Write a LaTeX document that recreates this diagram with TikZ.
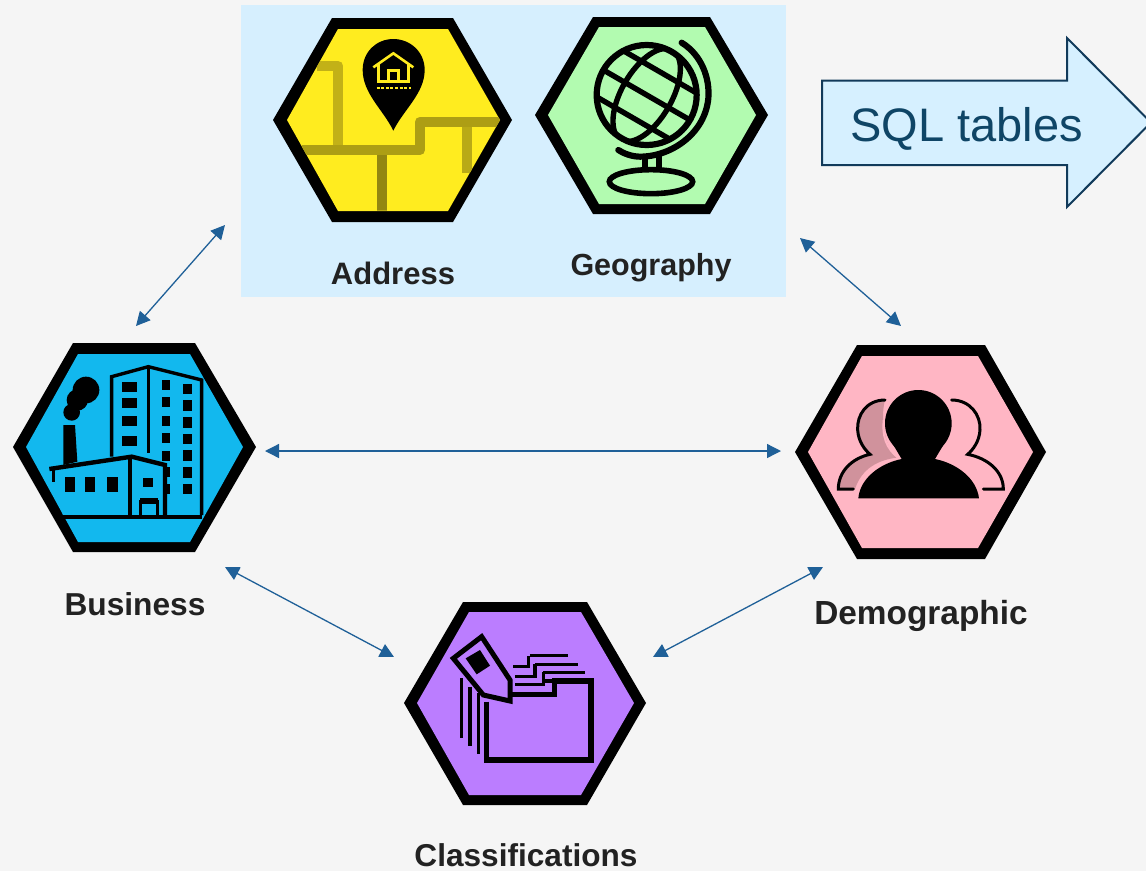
\documentclass[tikz,border=0pt]{standalone}
\usepackage{fontspec}
\setmainfont{Liberation Sans}
\usetikzlibrary{arrows.meta}
\definecolor{bgc}{HTML}{F5F5F5}
\definecolor{panelc}{HTML}{D6EFFE}
\definecolor{arrc}{HTML}{1F6098}
\definecolor{blockc}{HTML}{D6F0FF}
\definecolor{blockl}{HTML}{113A5A}
\definecolor{sqlc}{HTML}{0F4566}
\definecolor{yel}{HTML}{FFEC1F}
\definecolor{road}{HTML}{AD9E14}
\definecolor{grn}{HTML}{B2FBB0}
\definecolor{cyn}{HTML}{12B8EE}
\definecolor{pnk}{HTML}{FFB6C4}
\definecolor{pnkd}{HTML}{D0929C}
\definecolor{pur}{HTML}{BB7DFF}
\definecolor{lab}{HTML}{222222}
\tikzset{
  hexblack/.style={fill=black,draw=none},
  lbl/.style={text=lab,inner sep=0pt,anchor=base,font=\bfseries\fontsize{#1}{#1}\selectfont},
  link/.style={draw=arrc,line width=1.3pt,{Triangle[length=14pt,width=14pt]}-{Triangle[length=14pt,width=14pt]}},
  icon/.style={x=0.33333pt,y=-0.33333pt}
}
\begin{document}
\begin{tikzpicture}[x=1pt,y=-1pt]
\useasboundingbox (0,0) rectangle (1146,871);
\begin{scope}
\clip (0,0) rectangle (1146,871);
\fill[bgc] (0,0) rectangle (1146,871);
\fill[panelc] (241,5) rectangle (786,297);

% block arrow
\draw[fill=blockc,draw=blockl,line width=2pt,miter limit=10]
  (822,80.5)--(1067,80.5)--(1067,38)--(1151,122.5)--(1067,207)--(1067,165)--(822,165)--cycle;
\end{scope}
\node[inner sep=0pt,anchor=base,text=sqlc,font=\fontsize{47}{47}\selectfont] (sql) at (966.5,141) {SQL tables};

% ---- Address
\fill[hexblack] (273,120)--(332,18)--(453,18)--(512,120)--(453,222)--(332,222)--cycle;
\fill[yel] (287,120)--(338,29)--(448,29)--(500,120)--(448,211)--(338,211)--cycle;
\begin{scope}[shift={(260,0)},icon]
  \begin{scope}
  \clip (80,360)--(235,87)--(565,87)--(720,360)--(565,632)--(235,632)--cycle;
  \draw[road!75!yel,line width=10pt,line join=round] (170,198)--(235,198)--(235,450);
  \draw[road,line width=10pt,line join=round] (125,450)--(480,450)--(480,365)--(725,365);
  \draw[road!85!black,line width=10pt] (365,465)--(365,640);
  \draw[road!85!yel,line width=10pt] (620,380)--(620,520);
  \end{scope}
  \fill[black] (400,392) .. controls (370,330) and (308,280) .. (308,210)
     .. controls (308,155) and (350,117) .. (400,117)
     .. controls (450,117) and (494,155) .. (494,210)
     .. controls (494,280) and (430,330) .. (400,392) -- cycle;
  \draw[yel,line width=2.6pt,line join=miter] (340,202)--(400,160)--(460,202);
  \draw[yel,line width=2.6pt] (355,192)--(355,245)--(445,245)--(445,192);
  \draw[yel,line width=2.6pt] (385,243)--(385,212)--(415,212)--(415,243);
  \draw[yel,line width=2.6pt,dash pattern=on 3pt off 1.6pt] (350,264)--(452,264);
\end{scope}

% ---- Geography
\fill[hexblack] (535,115)--(593,17)--(710,17)--(768,115)--(710,214)--(593,214)--cycle;
\fill[grn] (548,115)--(599,27)--(705,27)--(756,115)--(705,204)--(599,204)--cycle;
\begin{scope}[shift={(525,0)},icon]
  \begin{scope}
    \clip (365,285) circle (150);
    \begin{scope}[shift={(365,285)},rotate=-30]
      \draw[line width=5.4pt] (-160,-80)--(160,-80);
      \draw[line width=5.4pt] (-160,0)--(160,0);
      \draw[line width=5.4pt] (-160,80)--(160,80);
      \draw[line width=5.4pt] (0,0) ellipse (75 and 155);
    \end{scope}
  \end{scope}
  \draw[line width=6.2pt] (365,285) circle (150);
  \draw[line width=6.2pt,line cap=round] (470,128) .. controls (530,165) and (555,235) .. (550,295)
     .. controls (540,400) and (440,470) .. (345,470) .. controls (320,470) and (295,460) .. (280,450);
  \draw[line width=5.6pt] (360,470)--(360,510);
  \draw[line width=5.6pt] (402,465)--(402,510);
  \draw[line width=5.6pt] (378,545) ellipse (125 and 36);
\end{scope}

% ---- Business
\fill[hexblack] (13,447)--(73,343)--(195,343)--(256,447)--(195,552)--(73,552)--cycle;
\fill[cyn] (26,447)--(78,354)--(190,354)--(243,447)--(190,542)--(78,542)--cycle;
\begin{scope}[shift={(0,335)},icon]
  % smoke
  \fill[black] (190,390)--(190,270)--(225,270)--(232,380)--cycle;
  \fill[black] (258,165) circle (40);
  \fill[black] (232,195) circle (32);
  \fill[black] (215,232) circle (25);
  % tower
  \draw[line width=3.4pt,line join=miter] (335,365)--(335,125)--(445,95)--(605,135)--(605,540);
  \draw[line width=3.4pt] (445,95)--(445,355);
  \foreach \yy in {155,203,258,317}{\fill[black] (366,\yy-15) rectangle (412,\yy+15);}
  \foreach \yy in {162,212,262,312,362,412,462}{\fill[black] (548,\yy-16) rectangle (575,\yy+16);}
  \foreach \yy in {150,202,258,310,362,412,462}{\fill[black] (485,\yy-15) rectangle (510,\yy+15);}
  % factory
  \fill[cyn] (152,402)--(395,365)--(495,388)--(495,545)--(190,545)--cycle;
  \draw[line width=4.4pt,line join=miter] (148,402)--(395,365)--(495,390)--(495,545);
  \draw[line width=4pt] (390,370)--(390,545);
  \draw[line width=3pt] (160,405)--(160,440);
  \draw[line width=4pt] (178,545)--(605,545);
  \foreach \xx in {210,270,338}{\fill[black] (\xx-16,426) rectangle (\xx+16,472);}
  \fill[black] (430,428) rectangle (458,455);
  \draw[line width=3.6pt] (422,540)--(422,500)--(472,500)--(472,540);
  \fill[black] (420,490) rectangle (474,506);
\end{scope}

% ---- Demographic
\fill[hexblack] (795,452)--(857,345)--(985,345)--(1046,452)--(985,559)--(857,559)--cycle;
\fill[pnk] (808,452)--(862,356)--(978,356)--(1033,452)--(978,548)--(862,548)--cycle;
\begin{scope}[shift={(785,335)},icon]
  \fill[pnkd] (300,195) .. controls (245,195) and (215,240) .. (218,285) .. controls (220,320) and (240,345) .. (255,358)
     .. controls (200,370) and (160,410) .. (160,462) -- (210,462) .. controls (230,400) and (280,375) .. (335,368)
     .. controls (300,340) and (285,250) .. (300,195) -- cycle;
  \draw[line width=3pt,line cap=round] (300,195) .. controls (245,195) and (215,240) .. (218,285) .. controls (220,320) and (240,345) .. (255,358)
     .. controls (200,370) and (160,410) .. (160,462) -- (205,462);
  \draw[line width=3pt,line cap=round] (500,195) .. controls (555,195) and (588,240) .. (585,285) .. controls (583,320) and (563,345) .. (548,358)
     .. controls (610,370) and (655,410) .. (655,462) -- (595,462);
  \draw[pnk,line width=2pt] (218,490) .. controls (222,425) and (280,385) .. (345,372) .. controls (300,340) and (292,300) .. (296,255);
  \fill[black] (400,265) circle (100);
  \fill[black] (220,490) .. controls (225,430) and (285,385) .. (350,372)
     -- (322,325) -- (478,325) -- (450,372)
     .. controls (515,385) and (575,430) .. (582,490) -- cycle;
\end{scope}

% ---- Classifications
\fill[hexblack] (404,703)--(463,602)--(587,602)--(646,703)--(587,805)--(463,805)--cycle;
\fill[pur] (417,703)--(469,612)--(581,612)--(634,703)--(581,795)--(469,795)--cycle;
\begin{scope}[shift={(395,595)},icon]
  % folder
  \draw[line width=5.6pt,line join=miter] (275,320)--(275,495)--(588,495)--(588,258)--(478,258)--(478,298)--(350,298);
  % tabs
  \draw[line width=3.4pt] (405,182)--(520,182);
  \draw[line width=3.4pt] (355,215)--(400,215)--(400,182);
  \draw[line width=3.4pt] (420,208)--(548,208);
  \draw[line width=3.4pt] (360,245)--(420,245)--(420,208);
  \draw[line width=3.4pt] (445,232)--(570,232);
  \draw[line width=3.4pt] (360,268)--(445,268)--(445,232);
  \draw[line width=3.4pt] (445,258)--(478,258);
  % motion lines
  \draw[line width=3.2pt] (200,250)--(200,428);
  \draw[line width=3.2pt] (225,275)--(225,452);
  \draw[line width=3.2pt] (250,295)--(250,478);
  % tag
  \fill[pur] (175,190)--(260,125)--(345,255)--(345,318)--(265,300)--cycle;
  \draw[line width=5pt,line join=miter] (175,190)--(260,125)--(345,255)--(345,318)--(265,300)--cycle;
  \fill[black] (212,190)--(255,165)--(285,212)--(245,238)--cycle;
\end{scope}

% labels
\node[lbl=31] (addr) at (393,284) {Address};
\node[lbl=30.5] (geo) at (651,275) {Geography};
\node[lbl=31.7] (bus) at (135,615) {Business};
\node[lbl=33.4] (dem) at (921,624) {Demographic};
\node[lbl=31.6] (cls) at (526,866) {Classifications};

% connector ends
\coordinate (panelL) at (225,225);
\coordinate (busT) at (136,326);
\coordinate (panelR) at (800,238);
\coordinate (demT) at (901,326);
\coordinate (busR) at (265,451);
\coordinate (demL) at (781,451);
\coordinate (busB) at (225,567);
\coordinate (clsL) at (394,657);
\coordinate (demB) at (823,567);
\coordinate (clsR) at (653,657);
\draw[link] (panelL)--(busT);
\draw[link] (panelR)--(demT);
\draw[link] (busR)--(demL);
\draw[link] (busB)--(clsL);
\draw[link] (demB)--(clsR);
\end{tikzpicture}
\end{document}
